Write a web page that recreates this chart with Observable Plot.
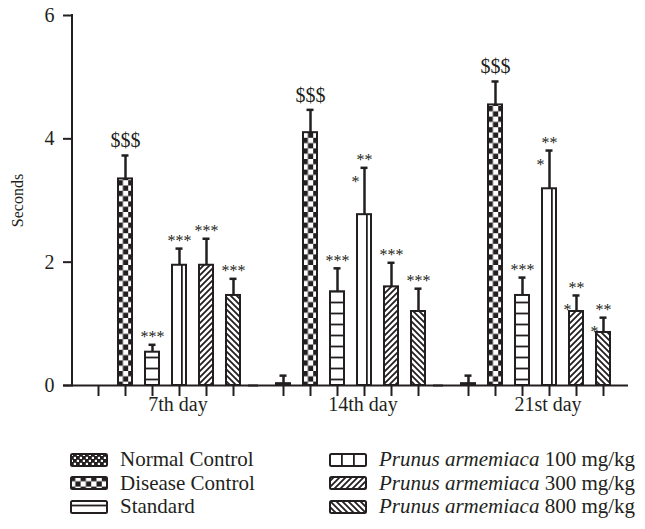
<!DOCTYPE html>
<html>
<head>
<meta charset="utf-8">
<script src="https://cdn.jsdelivr.net/npm/d3@7"></script>
<script src="https://cdn.jsdelivr.net/npm/@observablehq/plot@0.6"></script>
<style>
  html, body { margin: 0; padding: 0; background: #fff; }
  body { width: 645px; height: 529px; overflow: hidden; font-family: "Liberation Serif", "Times New Roman", serif; color: #231f20; }
  #legend { display: grid; grid-template-columns: 259px auto; grid-template-rows: repeat(3, 23.5px); grid-auto-flow: column; margin-left: 70px; padding-top: 23px; font-size: 21px; }
  #legend .item { display: flex; align-items: center; white-space: nowrap; }
  #legend svg { flex: none; }
  #legend span { margin-left: 12px; }
</style>
</head>
<body>
<svg width="0" height="0" style="position:absolute">
  <defs>
    <pattern id="pNC" patternUnits="userSpaceOnUse" width="6" height="6">
      <rect width="6" height="6" fill="#231f20"/>
      <rect x="0.8" y="0.8" width="2.2" height="2.2" fill="#fff"/>
      <rect x="3.8" y="3.8" width="2.2" height="2.2" fill="#fff"/>
    </pattern>
    <pattern id="pDC" patternUnits="userSpaceOnUse" width="10.6" height="10.6">
      <rect width="10.6" height="10.6" fill="#fff"/>
      <rect x="0" y="0" width="5.3" height="5.3" fill="#231f20"/>
      <rect x="5.3" y="5.3" width="5.3" height="5.3" fill="#231f20"/>
    </pattern>
    <pattern id="pST" patternUnits="userSpaceOnUse" width="10" height="11">
      <rect width="10" height="11" fill="#fff"/>
      <path d="M0,5.5H10" stroke="#231f20" stroke-width="1.8"/>
    </pattern>
    <pattern id="pP100" patternUnits="userSpaceOnUse" width="12" height="10">
      <rect width="12" height="10" fill="#fff"/>
      <path d="M0,0V10" stroke="#231f20" stroke-width="3.6"/>
    </pattern>
    <pattern id="pP300" patternUnits="userSpaceOnUse" width="6" height="6">
      <rect width="6" height="6" fill="#fff"/>
      <path d="M-1,1L1,-1M0,6L6,0M5,7L7,5" stroke="#231f20" stroke-width="1.8"/>
    </pattern>
    <pattern id="pP800" patternUnits="userSpaceOnUse" width="6" height="6">
      <rect width="6" height="6" fill="#fff"/>
      <path d="M-1,5L1,7M0,0L6,6M5,-1L7,1" stroke="#231f20" stroke-width="1.8"/>
    </pattern>
  </defs>
</svg>
<div id="chart"></div>
<div id="legend"></div>
<script>
// ---- data ----
const days = ["7th day", "14th day", "21st day"];
const groups = [
  "Normal Control",
  "Disease Control",
  "Standard",
  "Prunus armemiaca 100 mg/kg",
  "Prunus armemiaca 300 mg/kg",
  "Prunus armemiaca 800 mg/kg"
];
const patternIds = ["pNC", "pDC", "pST", "pP100", "pP300", "pP800"];

const day7Means  = [0,    3.35, 0.54, 1.95, 1.95, 1.46];
const day14Means = [0.03, 4.10, 1.52, 2.77, 1.60, 1.20];
const day21Means = [0.03, 4.55, 1.46, 3.19, 1.20, 0.86];

const day7Errors  = [0,    0.38, 0.12, 0.27, 0.43, 0.27];
const day14Errors = [0.13, 0.37, 0.38, 0.76, 0.39, 0.37];
const day21Errors = [0.13, 0.38, 0.29, 0.62, 0.26, 0.24];

const day7Sig  = ["", "$$$", "***", "***", "***", "***"];
const day14Sig = ["", "$$$", "***", "**",  "***", "***"];
const day21Sig = ["", "$$$", "***", "**",  "**",  "**"];

const day7Side  = ["", "", "", "",  "",  ""];
const day14Side = ["", "", "", "*", "",  ""];
const day21Side = ["", "", "", "*", "*", "*"];

const yTicks = [0, 2, 4, 6];
const yLabel = "Seconds";

// ---- table ----
const meansByDay = [day7Means, day14Means, day21Means];
const errorsByDay = [day7Errors, day14Errors, day21Errors];
const sigByDay = [day7Sig, day14Sig, day21Sig];
const sideByDay = [day7Side, day14Side, day21Side];

const rows = days.flatMap((day, i) => groups.map((group, j) => ({
  day, group,
  mean: meansByDay[i][j],
  err: errorsByDay[i][j],
  sig: sigByDay[i][j],
  side: sideByDay[i][j]
})));
const withErr = rows.filter(d => d.err > 0);

const ink = "#231f20";
const serif = "'Liberation Serif', 'Times New Roman', serif";
const marginLeft = 72;

const chart = Plot.plot({
  width: 645,
  height: 425,
  marginLeft,
  marginRight: 15.5,
  marginTop: 15,
  marginBottom: 40,
  style: {fontFamily: serif, color: ink, background: "white", overflow: "visible"},
  fx: {domain: days, padding: 0, axis: null},
  x: {domain: groups, paddingInner: 0.48, paddingOuter: 0.56},
  y: {domain: [0, 6]},
  color: {domain: groups, range: patternIds.map(id => `url(#${id})`)},
  marks: [
    Plot.barY(rows, {fx: "day", x: "group", y: "mean", fill: "group", stroke: ink, strokeWidth: 2}),
    Plot.ruleX(withErr, {fx: "day", x: "group", y1: "mean", y2: d => d.mean + d.err, stroke: ink, strokeWidth: 2.5}),
    Plot.tickY(withErr, {fx: "day", x: "group", y: d => d.mean + d.err, stroke: ink, strokeWidth: 2.5, insetLeft: 3.5, insetRight: 3.5}),
    Plot.text(rows.filter(d => d.sig.startsWith("$")), {fx: "day", x: "group", y: d => d.mean + d.err, text: "sig", fontSize: 20, dy: -14.5, fill: ink}),
    Plot.text(rows.filter(d => d.sig.startsWith("*")), {fx: "day", x: "group", y: d => d.mean + d.err, text: "sig", fontSize: 16, dy: -7.6, fill: ink}),
    Plot.text(rows.filter(d => d.side), {fx: "day", x: "group", y: d => d.mean + d.err, text: "side", fontSize: 16, dx: -9, dy: 14.4, fill: ink}),
    Plot.ruleY([0], {stroke: ink, strokeWidth: 2, insetLeft: -10}),
    Plot.axisX({tickSize: 11, tickFormat: () => "", strokeWidth: 2, stroke: ink, label: null}),
    Plot.text(days, {fx: d => d, text: d => d, frameAnchor: "bottom", dy: 25.6, dx: 12, fontSize: 20, fill: ink}),
    Plot.axisY({ticks: yTicks, tickFormat: d3.format("d"), tickSize: 10, tickPadding: 9, fontSize: 20, strokeWidth: 2, stroke: ink, label: null}),
    Plot.axisY({ticks: [], label: yLabel, labelAnchor: "center", labelOffset: 62, labelArrow: "none", fontSize: 16})
  ]
});

document.getElementById("chart").appendChild(chart);

// y-axis label size
d3.select(chart).selectAll("text").filter(function() { return this.textContent.includes(yLabel); })
  .attr("font-size", 16).style("font-size", "16px")
  .selectAll("tspan").style("font-size", "16px");

// y-axis domain line, positioned with the chart's own y scale
const yS = chart.scale("y");
d3.select(chart).append("line")
  .attr("x1", marginLeft).attr("x2", marginLeft)
  .attr("y1", yS.apply(6) - 1).attr("y2", yS.apply(0) + 1)
  .attr("stroke", ink).attr("stroke-width", 2);

// ---- legend ----
const legend = d3.select("#legend");
groups.forEach((g, i) => {
  const item = legend.append("div").attr("class", "item");
  const sw = item.append("svg").attr("width", 38).attr("height", 14);
  sw.append("rect").attr("x", 1).attr("y", 1).attr("width", 36).attr("height", 12).attr("rx", 1.5)
    .attr("fill", `url(#${patternIds[i]})`).attr("stroke", ink).attr("stroke-width", 2);
  const span = item.append("span");
  const m = g.match(/^(Prunus armemiaca)(.*)$/);
  if (m) {
    span.append("i").text(m[1]);
    span.append("tspan").text(m[2]);
  } else {
    span.text(g);
  }
});
</script>
</body>
</html>
